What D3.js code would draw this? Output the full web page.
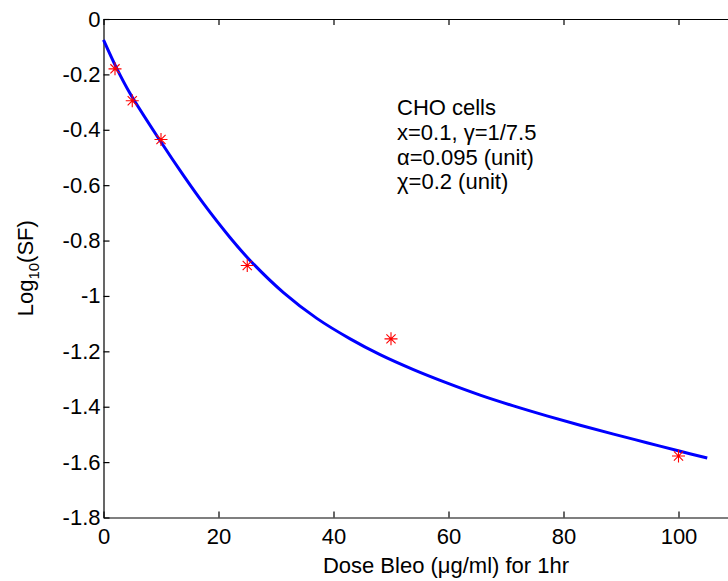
<!DOCTYPE html>
<html>
<head>
<meta charset="utf-8">
<script src="https://cdn.jsdelivr.net/npm/d3@7"></script>
<style>
  body { margin: 0; background: #fff; }
  text { font-family: "Liberation Sans", Arial, sans-serif; fill: #000; }
</style>
</head>
<body>
<script>
// measured points (dose, log10 SF)
var doseX = [2, 5, 10, 25, 50, 100];
var logSF = [-0.18, -0.295, -0.435, -0.89, -1.155, -1.578];

// fitted curve
var fitX = [0, 2.3, 4.6, 9.8, 13.9, 17.4, 22, 25.5, 31.3, 37.1, 42.9, 48.1, 53.9, 59.7, 65.5, 71.3, 77.1, 82.9, 88.7, 94.5, 100.3, 105];
var fitY = [-0.075, -0.178, -0.268, -0.438, -0.565, -0.667, -0.789, -0.872, -0.988, -1.081, -1.155, -1.212, -1.266, -1.314, -1.358, -1.397, -1.433, -1.467, -1.499, -1.530, -1.561, -1.585];

var xTicks = [0, 20, 40, 60, 80, 100];
var xTickLabels = ['0', '20', '40', '60', '80', '100'];
var yTicks = [0, -0.2, -0.4, -0.6, -0.8, -1, -1.2, -1.4, -1.6, -1.8];
var yTickLabels = ['0', '-0.2', '-0.4', '-0.6', '-0.8', '-1', '-1.2', '-1.4', '-1.6', '-1.8'];

var noteLines = ['CHO cells', 'x=0.1, \u03b3=1/7.5', '\u03b1=0.095 (unit)', '\u03c7=0.2 (unit)'];

var width = 728, height = 581;
var plotLeft = 103.5, plotTop = 19, plotBottom = 517.5;

var svg = d3.select('body')
  .append('svg')
  .attr('width', width)
  .attr('height', height);

svg.append('rect')
  .attr('width', width)
  .attr('height', height)
  .attr('fill', '#fff');

var x = d3.scaleLinear().domain([0, 120]).range([plotLeft, plotLeft + 690]);
var y = d3.scaleLinear().domain([-1.8, 0]).range([plotBottom, plotTop]);

// axes, ticks pointing inwards
svg.append('g')
  .attr('transform', 'translate(0,' + plotBottom + ')')
  .call(d3.axisBottom(x)
    .tickValues(xTicks)
    .tickFormat(function(d, i) { return xTickLabels[i]; })
    .tickSizeInner(-6)
    .tickSizeOuter(0)
    .tickPadding(11));

svg.append('g')
  .attr('transform', 'translate(0,' + plotTop + ')')
  .call(d3.axisTop(x)
    .tickValues(xTicks)
    .tickFormat('')
    .tickSizeInner(-6)
    .tickSizeOuter(0));

svg.append('g')
  .attr('transform', 'translate(' + plotLeft + ',0)')
  .call(d3.axisLeft(y)
    .tickValues(yTicks)
    .tickFormat(function(d, i) { return yTickLabels[i]; })
    .tickSizeInner(-6)
    .tickSizeOuter(0)
    .tickPadding(3));

svg.selectAll('.domain, .tick line')
  .attr('stroke', '#000')
  .attr('stroke-width', 1.2);

svg.selectAll('.tick text')
  .attr('font-size', 22)
  .attr('font-family', '"Liberation Sans", Arial, sans-serif')
  .attr('fill', '#000');

// fitted line
var line = d3.line()
  .x(function(d, i) { return x(fitX[i]); })
  .y(function(d, i) { return y(fitY[i]); })
  .curve(d3.curveCatmullRom);

svg.append('path')
  .datum(fitX)
  .attr('d', line)
  .attr('fill', 'none')
  .attr('stroke', '#0000ff')
  .attr('stroke-width', 3);

// asterisk markers
var r = 6.5, k = 4.6;
var star = 'M0,' + (-r) + 'V' + r + 'M' + (-r) + ',0H' + r +
  'M' + (-k) + ',' + (-k) + 'L' + k + ',' + k +
  'M' + (-k) + ',' + k + 'L' + k + ',' + (-k);

svg.selectAll('.pt')
  .data(doseX)
  .enter()
  .append('path')
  .attr('class', 'pt')
  .attr('transform', function(v, i) {
    return 'translate(' + x(v) + ',' + y(logSF[i]) + ')';
  })
  .attr('d', star)
  .attr('fill', 'none')
  .attr('stroke', '#ff0000')
  .attr('stroke-width', 1.1);

// labels
svg.append('text')
  .attr('x', 446)
  .attr('y', 573)
  .attr('text-anchor', 'middle')
  .attr('font-size', 22)
  .text('Dose Bleo (\u03bcg/ml) for 1hr');

var ylab = svg.append('text')
  .attr('transform', 'translate(33,' + (plotTop + plotBottom) / 2 + ') rotate(-90)')
  .attr('text-anchor', 'middle')
  .attr('font-size', 22);
ylab.append('tspan').text('Log');
ylab.append('tspan').attr('font-size', 15).attr('dy', 6).text('10');
ylab.append('tspan').attr('dy', -6).text('(SF)');

svg.selectAll('.note')
  .data(noteLines)
  .enter()
  .append('text')
  .attr('class', 'note')
  .attr('x', 397)
  .attr('y', function(t, i) { return 115 + i * 24.8; })
  .attr('font-size', 22)
  .text(function(t) { return t; });
</script>
</body>
</html>
